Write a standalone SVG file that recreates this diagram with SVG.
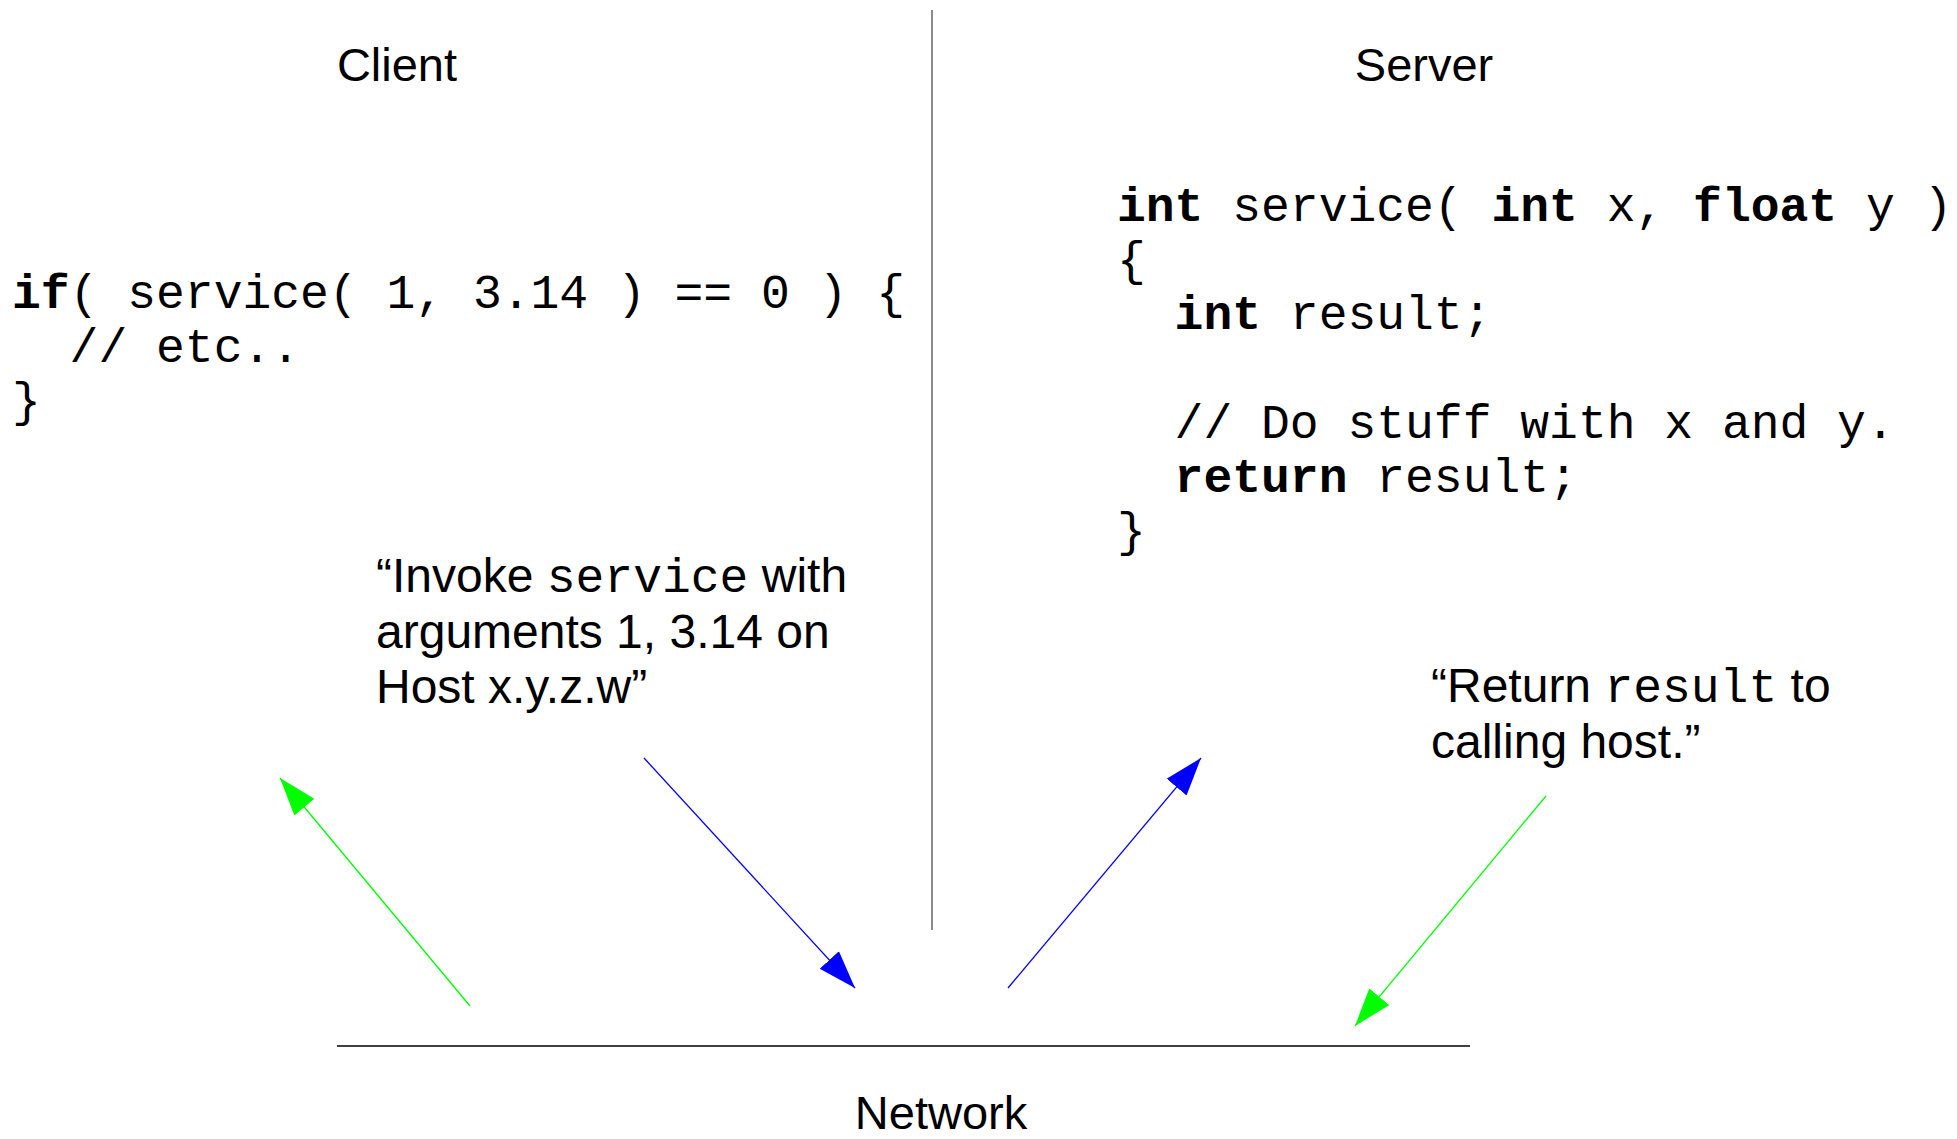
<svg xmlns="http://www.w3.org/2000/svg" width="1957" height="1139" viewBox="0 0 1957 1139">
<style>
.sans{font-family:"Liberation Sans",Arial,sans-serif;fill:#000}
.mono{font-family:"Liberation Mono","Courier New",monospace;fill:#000}
.b{font-weight:bold}
.title{font-size:47px}
.code{font-size:48px}
.lbl{font-size:48px}
.g{stroke:#00ff00;stroke-width:1.3;fill:none}
.bl{stroke:#0000ff;stroke-width:1.3;fill:none}
</style>
<defs>
<marker id="ag" markerUnits="userSpaceOnUse" markerWidth="40" markerHeight="30" viewBox="0 0 40 30" refX="38" refY="15" orient="auto"><path d="M0,2 L38,15 L0,28 z" fill="#00ff00"/></marker>
<marker id="ab" markerUnits="userSpaceOnUse" markerWidth="40" markerHeight="30" viewBox="0 0 40 30" refX="38" refY="15" orient="auto"><path d="M0,2 L38,15 L0,28 z" fill="#0000ff"/></marker>
</defs>
<rect width="1957" height="1139" fill="#fff"/>
<g id="divider"><line x1="932" y1="10" x2="932" y2="930" stroke="#666" stroke-width="1.5"/></g>
<g id="network-line"><line x1="337" y1="1046" x2="1470" y2="1046" stroke="#000" stroke-width="1.6"/></g>
<g id="client-title"><text class="sans title" x="397" y="81" text-anchor="middle">Client</text></g>
<g id="server-title"><text class="sans title" x="1424" y="81" text-anchor="middle">Server</text></g>
<g id="network-title"><text class="sans title" x="941" y="1129" text-anchor="middle">Network</text></g>
<g id="client-code" class="mono code">
<text x="12" y="308" xml:space="preserve"><tspan class="b">if</tspan>( service( 1, 3.14 ) == 0 ) {</text>
<text x="12" y="362" xml:space="preserve">  // etc..</text>
<text x="12" y="416">}</text>
</g>
<g id="server-code" class="mono code">
<text x="1117" y="221" xml:space="preserve"><tspan class="b">int</tspan> service( <tspan class="b">int</tspan> x, <tspan class="b">float</tspan> y )</text>
<text x="1117" y="275">{</text>
<text x="1117" y="329" xml:space="preserve">  <tspan class="b">int</tspan> result;</text>
<text x="1117" y="438" xml:space="preserve">  // Do stuff with x and y.</text>
<text x="1117" y="492" xml:space="preserve">  <tspan class="b">return</tspan> result;</text>
<text x="1117" y="546">}</text>
</g>
<g id="invoke-label" class="sans lbl">
<text x="376" y="592" xml:space="preserve">“Invoke <tspan class="mono">service</tspan> with</text>
<text x="376" y="648">arguments 1, 3.14 on</text>
<text x="376" y="703">Host x.y.z.w”</text>
</g>
<g id="return-label" class="sans lbl">
<text x="1431" y="702" xml:space="preserve">“Return <tspan class="mono">result</tspan> to</text>
<text x="1431" y="758">calling host.”</text>
</g>
<g id="connectors">
<line class="g" x1="470" y1="1006" x2="280" y2="778" marker-end="url(#ag)"/>
<line class="bl" x1="644" y1="758" x2="855" y2="988" marker-end="url(#ab)"/>
<line class="bl" x1="1008" y1="988" x2="1201" y2="758" marker-end="url(#ab)"/>
<line class="g" x1="1546" y1="796" x2="1355" y2="1026" marker-end="url(#ag)"/>
</g>
</svg>
